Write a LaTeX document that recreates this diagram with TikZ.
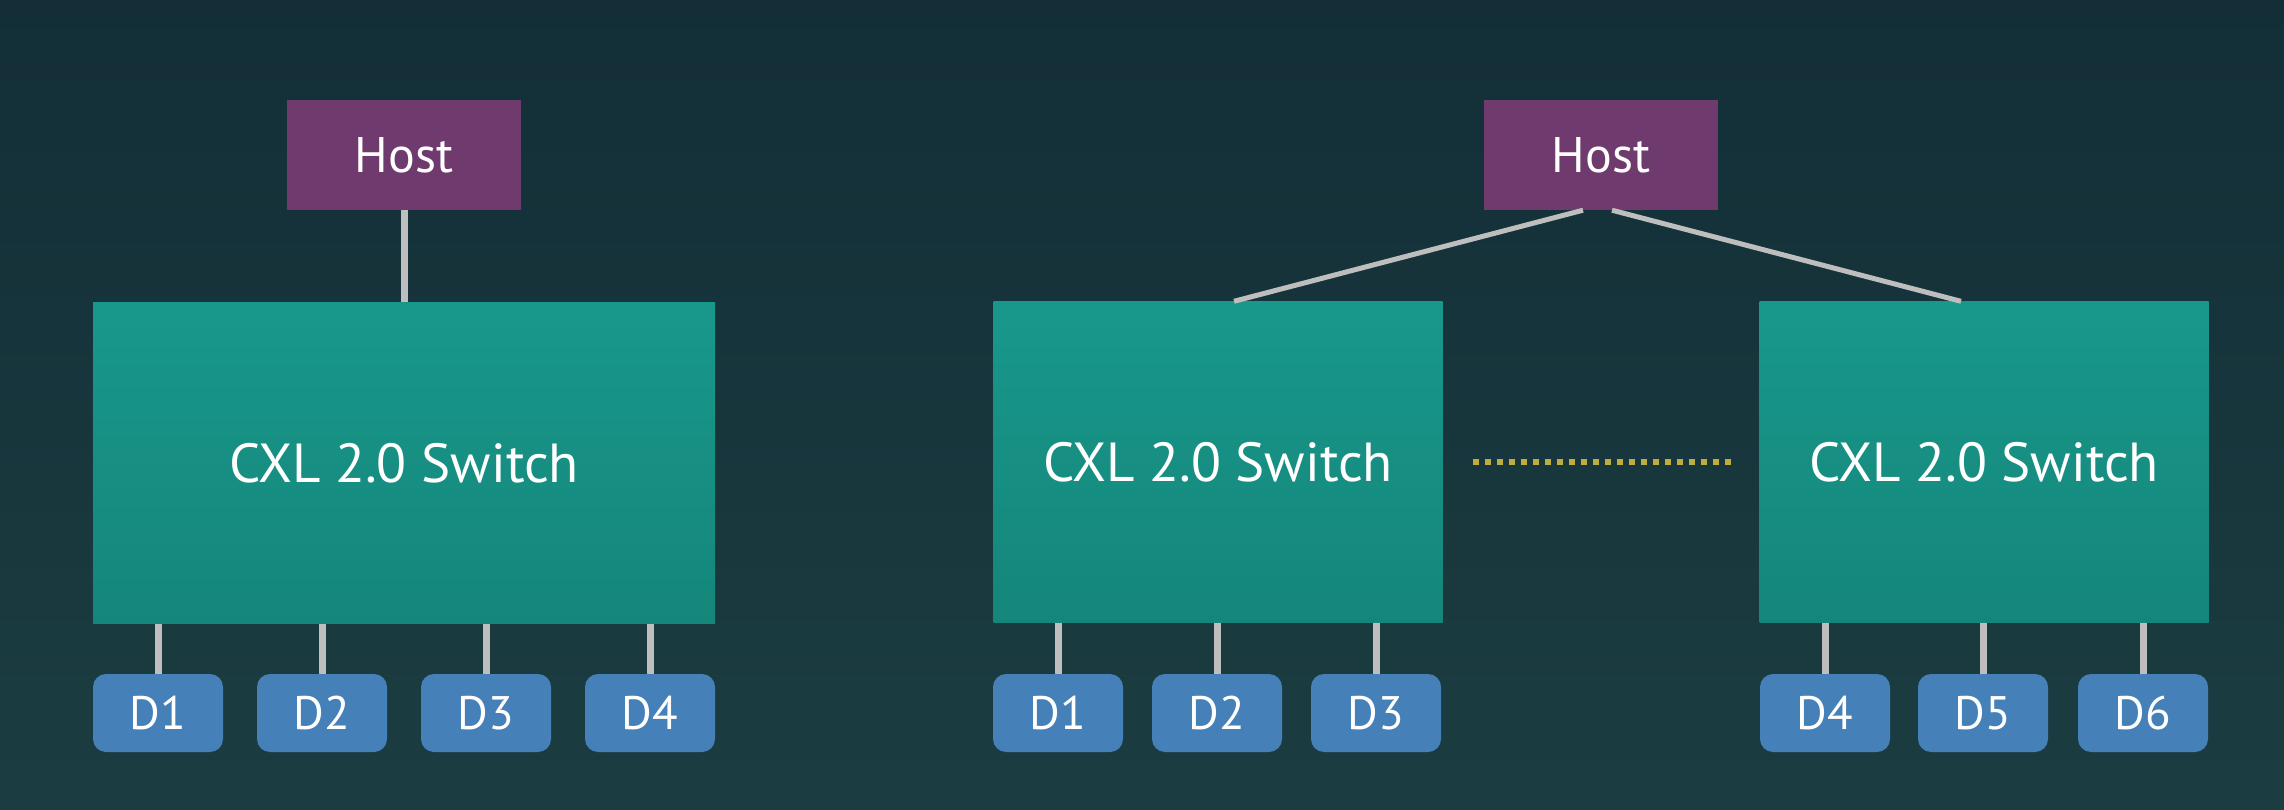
\documentclass[tikz,border=0pt]{standalone}
\usepackage{fontspec}
\setmainfont{PT Sans}
\usetikzlibrary{positioning}

\definecolor{bgtop}{RGB}{19,46,55}
\definecolor{bgbot}{RGB}{27,61,65}
\definecolor{hostpurple}{RGB}{111,59,110}
\definecolor{swtop}{RGB}{24,152,139}
\definecolor{swbot}{RGB}{21,134,122}
\definecolor{devblue}{RGB}{70,128,184}
\definecolor{linkgray}{RGB}{190,190,190}
\definecolor{dotyellow}{RGB}{190,173,62}

\tikzset{
  host/.style={fill=hostpurple, minimum width=234pt, minimum height=110pt, inner sep=0pt,
    text=white, font=\fontsize{50}{56}\selectfont},
  switchbox/.style={top color=swtop, bottom color=swbot, minimum height=321pt, inner sep=0pt,
    text=white, font=\fontsize{55}{62}\selectfont},
  dev/.style={fill=devblue, rounded corners=13pt, minimum width=130pt, minimum height=78pt,
    inner sep=0pt, text=white, font=\fontsize{47}{52}\selectfont},
  link/.style={draw=linkgray, line width=7pt},
  diag/.style={draw=linkgray, line width=5pt},
  dots/.style={draw=dotyellow, line width=6pt, dash pattern=on 6pt off 6pt}
}

\begin{document}
\begin{tikzpicture}[x=1pt,y=-1pt]
    % background
    \fill[top color=bgtop, bottom color=bgbot] (0,0) rectangle (2284,810);
    \useasboundingbox (0,0) rectangle (2284,810);

    % one host, one switch
    \node[host] (lhost) at (404,155) {Host};
    \node[switchbox, minimum width=622pt, below=92pt of lhost] (lsw) {CXL 2.0 Switch};
    \draw[link] (lhost) -- (lsw);
    \foreach \i/\x in {1/158,2/322,3/486,4/650} {
      \node[dev] (ld\i) at (\x,713) {D\i};
      \draw[link] (ld\i) -- (ld\i |- lsw.south);
    }

    % one host, two switches
    \node[host] (mhost) at (1601,155) {Host};
    \node[switchbox, minimum width=449pt] (msw) at (1218,462) {CXL 2.0 Switch};
    \node[switchbox, minimum width=449pt] (rsw) at (1984,462) {CXL 2.0 Switch};
    \draw[diag] ([xshift=-18pt]mhost.south) -- ([xshift=16pt]msw.north);
    \draw[diag] ([xshift=11pt]mhost.south) -- ([xshift=-23pt]rsw.north);
    \draw[dots] ([xshift=30pt]msw.east) -- ([xshift=-26pt]rsw.west);
    \foreach \i/\x in {1/1058,2/1217,3/1376} {
      \node[dev] (md\i) at (\x,713) {D\i};
      \draw[link] (md\i) -- (md\i |- msw.south);
    }
    \foreach \i/\x in {4/1825,5/1983,6/2143} {
      \node[dev] (rd\i) at (\x,713) {D\i};
      \draw[link] (rd\i) -- (rd\i |- rsw.south);
    }
\end{tikzpicture}
\end{document}
